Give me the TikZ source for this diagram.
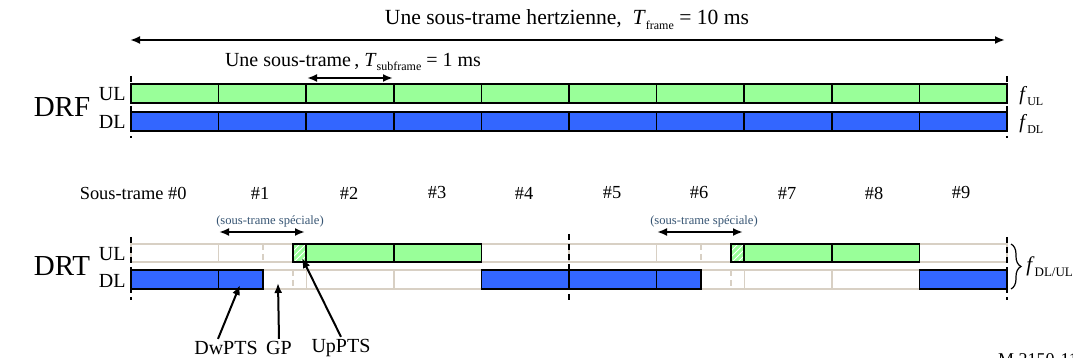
\documentclass[tikz,border=0pt]{standalone}
\usepackage{fontspec}
\setmainfont{Liberation Serif}
\usetikzlibrary{patterns,arrows.meta,decorations.pathreplacing}

\definecolor{ulgreen}{RGB}{153,255,153}
\definecolor{dlblue}{RGB}{51,102,255}
\definecolor{gridbeige}{RGB}{216,208,196}
\definecolor{notegray}{RGB}{55,85,115}
\newcommand{\lowsub}[1]{\raisebox{-0.5ex}{\fontsize{6}{6}\selectfont #1}}

\begin{document}
\begin{tikzpicture}[x=0.5pt,y=-0.5pt,
    bar/.style={draw=black, line width=0.75pt},
    cell/.style={draw=gridbeige, line width=0.7pt},
    gapline/.style={draw=gridbeige, line width=0.8pt, dash pattern=on 3pt off 2pt},
    edgeline/.style={draw=black, line width=1pt, dash pattern=on 3pt off 2pt},
    span/.style={{Latex[length=5pt,width=4pt]}-{Latex[length=5pt,width=4pt]}, line width=1pt},
    point/.style={-{Latex[length=5pt,width=4pt]}, line width=1pt},
    lbl/.style={font=\fontsize{10}{12}\selectfont, inner sep=1pt},
    num/.style={font=\fontsize{9.2}{11}\selectfont, inner sep=1pt},
    note/.style={font=\fontsize{6.3}{7}\selectfont, text=notegray, inner sep=1pt},
    big/.style={font=\fontsize{14.5}{16}\selectfont, inner sep=1pt}]
  \useasboundingbox (0,0) rectangle (1073,358);

  % --- DRF ---
  \node[lbl, font=\fontsize{10.8}{12}\selectfont] (frame) at (567,20) {Une sous-trame hertzienne,\ \ \textit{T}\lowsub{frame} = 10 ms};
  \coordinate (fL) at (130,40);
  \coordinate (fR) at (1005,40);
  \draw[span] (fL) -- (fR);
  \node[lbl] (subframe) at (353,62) {Une sous-trame\,, \textit{T}\lowsub{subframe} = 1 ms};
  \coordinate (sL) at (307,78);
  \coordinate (sR) at (393,78);
  \draw[span] (sL) -- (sR);

  \node[big] (drf) at (62,107) {DRF};
  \node[lbl, anchor=east] (ulF) at (128,94) {UL};
  \node[lbl, anchor=east] (dlF) at (128,122) {DL};
  \draw[bar, fill=ulgreen] (131,84) rectangle (1007,103);
  \draw[bar, fill=dlblue] (131,112) rectangle (1007,131);
  \foreach \x in {218.6,306.2,393.8,481.4,569,656.6,744.2,831.8,919.4}
    \draw[bar] (\x,84) -- (\x,103) (\x,112) -- (\x,131);
  \draw[edgeline] (131,76) -- (131,138);
  \draw[edgeline] (1007,76) -- (1007,138);
  \node[lbl, anchor=west] (fUL) at (1017,96) {\textit{f}\lowsub{UL}};
  \node[lbl, anchor=west] (fDL) at (1017,124) {\textit{f}\lowsub{DL}};

  % --- DRT ---
  \node[num, anchor=east] (n0) at (189,193) {Sous-trame \#0};
  \foreach \i/\x in {1/260,2/349,3/437,4/524,5/612,6/699,7/787,8/874,9/961}
    \node[num] (n\i) at (\x,193) {\#\i};

  \node[note] (sp1) at (270,221) {(sous-trame spéciale)};
  \node[note] (sp6) at (704,221) {(sous-trame spéciale)};
  \coordinate (a1) at (219,232);
  \coordinate (b1) at (305,232);
  \coordinate (a6) at (657,232);
  \coordinate (b6) at (743,232);
  \draw[span] (a1) -- (b1);
  \draw[span] (a6) -- (b6);

  \node[big] (drt) at (62,266) {DRT};
  \node[lbl, anchor=east] (ulT) at (128,254) {UL};
  \node[lbl, anchor=east] (dlT) at (128,281) {DL};

  % empty subframes
  \foreach \x in {131,218.6,306.2,393.8,481.4,569,656.6,744.2,831.8,919.4}
    \draw[cell] (\x,244) rectangle ++(87.6,18) (\x,270) rectangle ++(87.6,19);
  \draw[gapline] (263,244) -- (263,262);
  \draw[gapline] (293,270) -- (293,289);
  \draw[gapline] (701,244) -- (701,262);
  \draw[gapline] (731,270) -- (731,289);

  % uplink
  \draw[bar, fill=ulgreen] (293,244) rectangle (306.2,262);
  \fill[pattern=north east lines, pattern color=white] (293,244) rectangle (306.2,262);
  \draw[bar] (293,244) rectangle (306.2,262);
  \draw[bar, fill=ulgreen] (306.2,244) rectangle (481.4,262);
  \draw[bar] (393.8,244) -- (393.8,262);
  \draw[bar, fill=ulgreen] (731,244) rectangle (744.2,262);
  \fill[pattern=north east lines, pattern color=white] (731,244) rectangle (744.2,262);
  \draw[bar] (731,244) rectangle (744.2,262);
  \draw[bar, fill=ulgreen] (744.2,244) rectangle (919.4,262);
  \draw[bar] (831.8,244) -- (831.8,262);

  % downlink
  \draw[bar, fill=dlblue] (131,270) rectangle (263,289);
  \draw[bar] (218.6,270) -- (218.6,289);
  \draw[bar, fill=dlblue] (481.4,270) rectangle (701,289);
  \draw[bar] (569,270) -- (569,289) (656.6,270) -- (656.6,289);
  \draw[bar, fill=dlblue] (919.4,270) rectangle (1007,289);

  \draw[edgeline] (131,237) -- (131,300);
  \draw[edgeline] (569,234) -- (569,303);
  \draw[edgeline] (1007,237) -- (1007,300);

  \coordinate (bt) at (1011,244);
  \coordinate (bb) at (1011,289);
  \draw[decorate, decoration={brace, amplitude=5pt}, line width=0.6pt] (bt) -- (bb);
  \node[lbl, anchor=west, font=\fontsize{10.5}{12}\selectfont] (fDU) at (1024,267) {\textit{f}\raisebox{-0.5ex}{\fontsize{6.5}{7}\selectfont DL/UL}};

  % parts of the special subframe
  \node[lbl] (dwpts) at (226,348) {DwPTS};
  \node[lbl] (gp) at (279,348) {GP};
  \node[lbl] (uppts) at (341,348) {UpPTS};
  \coordinate (dwtip) at (240,285);
  \coordinate (gptip) at (278,283);
  \coordinate (uptip) at (302,258);
  \draw[point] ([xshift=-4pt]dwpts.north) -- (dwtip);
  \draw[point] (gp.north) -- (gptip);
  \draw[point] (uppts.north) -- (uptip);

  \node[lbl, anchor=north, font=\fontsize{9}{10}\selectfont] (ref) at (1038,351) {M.2150-11};
\end{tikzpicture}
\end{document}
